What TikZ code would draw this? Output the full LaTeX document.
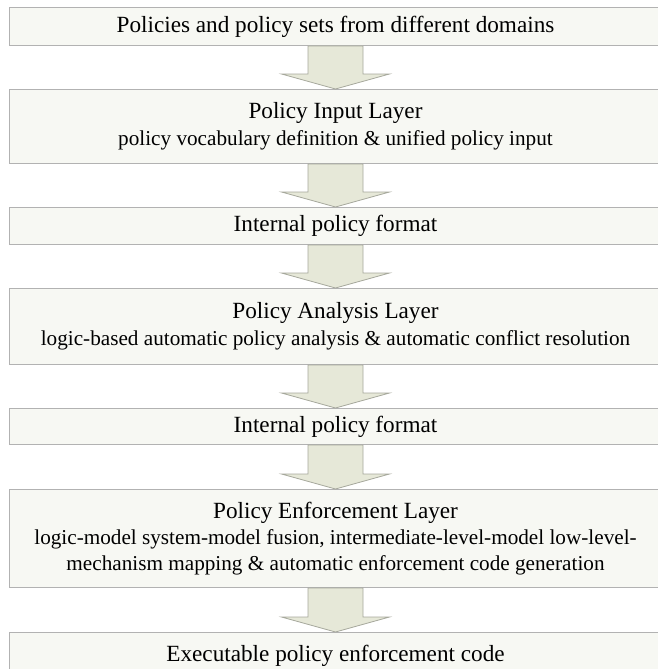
\documentclass[tikz,border=0pt]{standalone}
\usepackage{fontspec}
\setmainfont{Liberation Serif}
\usetikzlibrary{calc}
\definecolor{boxfill}{HTML}{F7F8F3}
\definecolor{boxline}{HTML}{B2B2B2}
\definecolor{arrowfill}{HTML}{E6E8D8}
\definecolor{arrowline}{HTML}{A6A89C}
\newcommand{\subtext}{\fontsize{21.2}{26}\selectfont}
\tikzset{
  layer/.style={draw=boxline, fill=boxfill, line width=1pt, rectangle,
    minimum width=653pt, inner sep=0pt, align=center, anchor=north,
    font=\fontsize{23.2}{27}\selectfont},
  flow/.style={draw=arrowline, fill=arrowfill, line width=0.8pt, line join=miter},
}
% block arrow from the bottom of one box to the top of the next
\newcommand{\blockarrow}[2]{%
  \path[flow] let \p1=(#1.south), \p2=(#2.north) in
    (\x1-27.5pt,\y1) -- (\x1+27.5pt,\y1) -- (\x1+27.5pt,\y2+15pt)
    -- (\x1+54pt,\y2+15pt) -- (\x2,\y2) -- (\x1-54pt,\y2+15pt)
    -- (\x1-27.5pt,\y2+15pt) -- cycle;}
\begin{document}
\begin{tikzpicture}[x=1pt,y=-1pt]
\useasboundingbox (0,0) rectangle (657,669);
\node[layer, minimum height=38pt] (src) at (335.5,7)
  {Policies and policy sets from different domains};
\node[layer, minimum height=74pt] (input) at (335.5,89)
  {Policy Input Layer\\[0pt] {\subtext policy vocabulary definition \& unified policy input}};
\node[layer, minimum height=37pt] (fmtA) at (335.5,207)
  {Internal policy format};
\node[layer, minimum height=76pt] (analysis) at (335.5,288)
  {Policy Analysis Layer\\[0pt] {\subtext logic-based automatic policy analysis \& automatic conflict resolution}};
\node[layer, minimum height=36pt] (fmtB) at (335.5,408)
  {Internal policy format};
\node[layer, minimum height=98pt] (enforce) at (335.5,489)
  {Policy Enforcement Layer\\[-1pt] {\subtext logic-model system-model fusion, intermediate-level-model low-level-}\\[-1pt]
   {\subtext mechanism mapping \& automatic enforcement code generation}};
\node[layer, minimum height=46pt] (code) at (335.5,632)
  {Executable policy enforcement code};
\blockarrow{src}{input}
\blockarrow{input}{fmtA}
\blockarrow{fmtA}{analysis}
\blockarrow{analysis}{fmtB}
\blockarrow{fmtB}{enforce}
\blockarrow{enforce}{code}
\end{tikzpicture}
\end{document}
